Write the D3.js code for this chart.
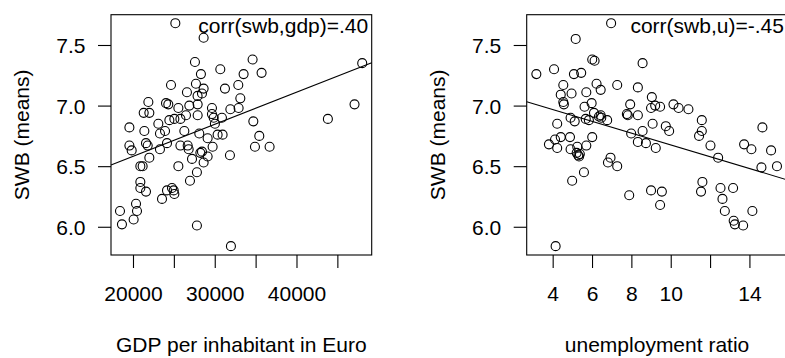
<!DOCTYPE html>
<html>
<head>
<meta charset="utf-8">
<script src="https://cdn.jsdelivr.net/npm/d3@7"></script>
<style>
  body { margin: 0; background: #fff; }
  svg { display: block; font-family: "Liberation Sans", Arial, sans-serif; }
  .axis text { font-size: 21px; fill: #000; }
  .axis line { stroke: #000; stroke-width: 1.1; }
  .axis-title, .corr-label { font-size: 21px; fill: #000; }
</style>
</head>
<body>
<div id="chart"></div>
<script>
// axis ticks (R drops labels that would collide, so some ticks stay unlabelled)
const swbTicks = [6.0, 6.5, 7.0, 7.5];
const gdpTicks = [20000, 25000, 30000, 35000, 40000, 45000];
const gdpTickLabels = [20000, 30000, 40000];
const unempTicks = [4, 6, 8, 10, 12, 14];
const unempTickLabels = [4, 6, 8, 10, 14];

// left panel: GDP per inhabitant vs SWB
const gdpValues = [
  25180, 28640, 27580, 34630, 30680, 35730, 28310, 33530, 24650, 27700,
  32880, 31250, 28640, 26600, 28440, 27900, 33130, 21880, 24040, 24320,
  26890, 27910, 25550, 29660, 31910, 32920, 21310, 22000, 26480, 27910,
  29660, 29870, 30880, 24450, 25060, 25800, 23100, 34720, 19560, 30020,
  21390, 26280, 23920, 23300, 28110, 30350, 30960, 35450, 29130, 19560,
  19840, 21590, 21800, 24160, 23300, 25800, 26690, 26810, 28240, 28440,
  29740, 29130, 27220, 28640, 22000, 31860, 34920, 36710, 20900, 21180,
  25550, 27820, 26970, 20900, 20900, 21590, 24160, 24770, 24980, 25060,
  23550, 20370, 20490, 18410, 20080, 18650, 27820, 31980, 48040, 47100,
  43840
];
const swbByGdp = [
  7.68, 7.56, 7.36, 7.38, 7.30, 7.27, 7.26, 7.26, 7.17, 7.18,
  7.17, 7.14, 7.14, 7.11, 7.10, 7.08, 7.06, 7.03, 7.02, 7.01,
  7.00, 7.01, 6.98, 6.98, 6.97, 6.98, 6.94, 6.94, 6.92, 6.92,
  6.93, 6.90, 6.90, 6.88, 6.89, 6.89, 6.85, 6.87, 6.82, 6.85,
  6.79, 6.79, 6.79, 6.77, 6.77, 6.76, 6.76, 6.75, 6.73, 6.67,
  6.63, 6.69, 6.67, 6.69, 6.64, 6.67, 6.67, 6.64, 6.61, 6.62,
  6.66, 6.58, 6.56, 6.53, 6.57, 6.59, 6.66, 6.66, 6.50, 6.50,
  6.50, 6.45, 6.38, 6.37, 6.32, 6.29, 6.30, 6.32, 6.30, 6.27,
  6.23, 6.19, 6.13, 6.13, 6.06, 6.02, 6.01, 5.84, 7.35, 7.01,
  6.89
];

// right panel: unemployment ratio vs SWB
const unempValues = [
  6.97, 5.17, 6.01, 6.13, 3.17, 4.07, 5.08, 5.45, 7.28, 4.54,
  6.23, 6.44, 4.41, 4.96, 5.71, 4.54, 4.57, 5.98, 5.62, 6.10,
  6.44, 6.35, 6.47, 6.77, 5.68, 5.84, 4.91, 5.12, 4.23, 4.12,
  3.81, 4.41, 4.88, 4.23, 4.91, 5.25, 6.01, 5.71, 5.22, 5.30,
  5.38, 5.34, 5.59, 4.99, 6.81, 6.94, 7.28, 4.15,
  8.57, 8.33, 9.04, 7.94, 7.77, 7.82, 8.33, 9.00, 9.21, 9.46,
  10.14, 10.40, 10.90, 9.08, 9.75, 9.92, 11.58, 11.58, 11.44, 7.99,
  8.57, 8.33, 8.74, 9.24, 7.89, 9.00, 9.55, 9.46, 11.61, 11.54,
  12.02, 12.41, 14.66, 13.73, 14.10, 15.10, 14.61, 15.40, 12.53, 13.17,
  12.63, 12.75, 14.15, 13.20, 13.26, 13.68
];
const swbByUnemp = [
  7.68, 7.55, 7.38, 7.37, 7.26, 7.30, 7.26, 7.27, 7.17, 7.17,
  7.18, 7.13, 7.09, 7.10, 7.11, 7.03, 7.01, 7.02, 6.99, 6.94,
  6.92, 6.91, 6.90, 6.88, 6.89, 6.88, 6.90, 6.87, 6.85, 6.72,
  6.68, 6.74, 6.74, 6.65, 6.64, 6.66, 6.74, 6.67, 6.61, 6.59,
  6.60, 6.58, 6.45, 6.38, 6.53, 6.57, 6.50, 5.84,
  7.35, 7.15, 7.07, 7.01, 6.93, 6.92, 6.92, 6.98, 7.00, 6.99,
  7.01, 6.98, 6.97, 6.85, 6.83, 6.79, 6.88, 6.79, 6.75, 6.77,
  6.79, 6.70, 6.69, 6.65, 6.26, 6.30, 6.29, 6.18, 6.37, 6.29,
  6.67, 6.57, 6.82, 6.68, 6.64, 6.63, 6.49, 6.50, 6.32, 6.32,
  6.23, 6.13, 6.13, 6.05, 6.02, 6.01
];

// fitted lines (abline of lm)
const gdpFit = { intercept: 6.052, slope: 0.00002647 };
const unempFit = { intercept: 7.163, slope: -0.04874 };

class ScatterPanel {
  constructor(_config, _x, _y) {
    this.config = _config;
    this.xValues = _x;
    this.yValues = _y;
    this.initVis();
  }

  initVis() {
    const vis = this;
    const c = vis.config;

    vis.g = c.svg.append("g")
      .attr("transform", `translate(${c.left},${c.top})`);

    vis.xScale = d3.scaleLinear().domain(c.xDomain).range([0, c.width]);
    vis.yScale = d3.scaleLinear().domain(c.yDomain).range([c.height, 0]);

    vis.xAxisGroup = vis.g.append("g")
      .attr("class", "axis")
      .attr("transform", `translate(0,${c.height})`)
      .call(d3.axisBottom(vis.xScale)
        .tickValues(c.xTicks)
        .tickSize(13)
        .tickSizeOuter(0)
        .tickPadding(18)
        .tickFormat((d) => (c.xLabels.includes(d) ? d : "")));

    vis.yAxisGroup = vis.g.append("g")
      .attr("class", "axis")
      .call(d3.axisLeft(vis.yScale)
        .tickValues(swbTicks)
        .tickSize(13)
        .tickSizeOuter(0)
        .tickPadding(12.5)
        .tickFormat(d3.format(".1f")));
    vis.yAxisGroup.selectAll("text").attr("dy", "0.36em");

    vis.g.selectAll(".axis .domain").remove();
    vis.g.selectAll(".axis text").attr("font-family", null).attr("font-size", null);

    vis.g.append("rect")
      .attr("width", c.width)
      .attr("height", c.height)
      .attr("fill", "none")
      .attr("stroke", "#000")
      .attr("stroke-width", 1.1);

    vis.g.append("text")
      .attr("class", "axis-title")
      .attr("x", c.width / 2)
      .attr("y", c.height + 97)
      .attr("text-anchor", "middle")
      .text(c.xTitle);

    vis.g.append("text")
      .attr("class", "axis-title")
      .attr("transform", "rotate(-90)")
      .attr("x", -c.height / 2)
      .attr("y", -82)
      .attr("text-anchor", "middle")
      .text("SWB (means)");

    vis.g.append("text")
      .attr("class", "corr-label")
      .attr("x", c.width - 3.5)
      .attr("y", 18.5)
      .attr("text-anchor", "end")
      .text(c.corrText);

    vis.updateVis();
  }

  updateVis() {
    const vis = this;
    const c = vis.config;
    const points = vis.xValues.map((x, i) => ({ x, y: vis.yValues[i] }));

    vis.g.selectAll(".pt")
      .data(points)
      .enter()
      .append("circle")
      .attr("class", "pt")
      .attr("cx", (d) => vis.xScale(d.x))
      .attr("cy", (d) => vis.yScale(d.y))
      .attr("r", 4.5)
      .attr("fill", "none")
      .attr("stroke", "#000")
      .attr("stroke-width", 1.1);

    const fitLine = c.xDomain.map((x) => [x, c.fit.intercept + c.fit.slope * x]);
    vis.g.append("path")
      .datum(fitLine)
      .attr("d", d3.line().x((d) => vis.xScale(d[0])).y((d) => vis.yScale(d[1])))
      .attr("fill", "none")
      .attr("stroke", "#000")
      .attr("stroke-width", 1.1);
  }
}

const svg = d3.select("#chart")
  .append("svg")
  .attr("width", 785)
  .attr("height", 358);

new ScatterPanel({
  svg, left: 111, top: 14.7, width: 260.7, height: 240.3,
  xDomain: [17310, 49200], yDomain: [5.767, 7.75],
  xTicks: gdpTicks, xLabels: gdpTickLabels,
  xTitle: "GDP per inhabitant in Euro",
  corrText: "corr(swb,gdp)=.40",
  fit: gdpFit
}, gdpValues, swbByGdp);

new ScatterPanel({
  svg, left: 526.7, top: 14.7, width: 260.7, height: 240.3,
  xDomain: [2.68, 15.93], yDomain: [5.767, 7.75],
  xTicks: unempTicks, xLabels: unempTickLabels,
  xTitle: "unemployment ratio",
  corrText: "corr(swb,u)=-.45",
  fit: unempFit
}, unempValues, swbByUnemp);
</script>
</body>
</html>
